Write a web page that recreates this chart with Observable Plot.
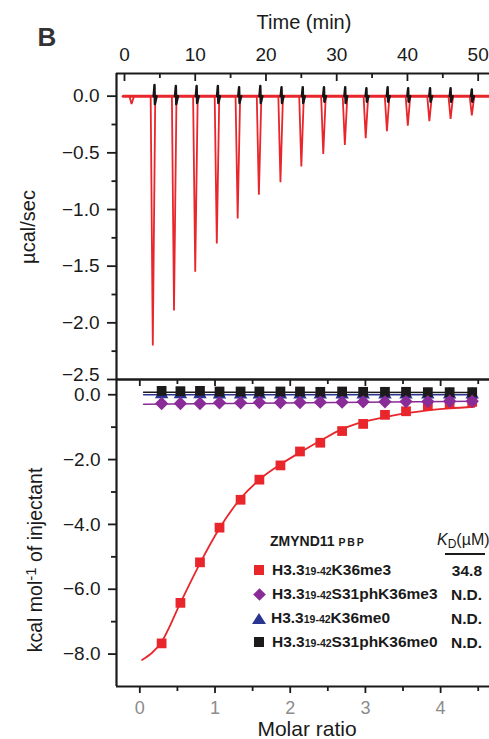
<!DOCTYPE html>
<html><head><meta charset="utf-8">
<script src="https://cdn.jsdelivr.net/npm/d3@7"></script>
<script src="https://cdn.jsdelivr.net/npm/@observablehq/plot@0.6"></script>
<style>
body{margin:0;background:#fff;}
#wrap{position:relative;width:489px;height:739px;overflow:hidden;font-family:"Liberation Sans",Arial,Helvetica,sans-serif;color:#1a1a1a;background:#fff;}
#wrap svg{position:absolute;left:0;top:0;}
.lbl{position:absolute;white-space:nowrap;line-height:1;}
.rot{transform:translate(-50%,-50%) rotate(-90deg);}
.ctr{transform:translate(-50%,-50%);}
.row{position:absolute;left:252px;height:20px;display:flex;align-items:center;font-weight:bold;font-size:15.5px;white-space:nowrap;}
.row .sub{font-size:10.5px;position:relative;top:1px;}
.kd{position:absolute;right:7px;font-weight:bold;font-size:15.5px;line-height:1;}
</style></head><body><div id="wrap"></div>
<script>
// ---------- top panel: raw heat (µcal/sec vs time) ----------
const injectionTime = [1.0, 4.0, 7.0, 10.0, 13.05, 16.0, 19.0, 22.05, 25.0, 28.1, 31.15, 34.1, 37.1, 40.05, 43.1, 46.1, 49.1];
const injectionPeak = [-0.07, -2.20, -1.89, -1.55, -1.30, -1.08, -0.87, -0.76, -0.62, -0.51, -0.43, -0.37, -0.31, -0.26, -0.22, -0.20, -0.17];
const controlTime = [4.24, 7.26, 10.2, 13.2, 16.2, 19.2, 22.2, 25.2, 28.2, 31.2, 34.2, 37.2, 40.1, 43.2, 46.1, 49.1];
const controlHigh = [0.10, 0.09, 0.09, 0.09, 0.08, 0.09, 0.08, 0.08, 0.08, 0.08, 0.07, 0.08, 0.07, 0.07, 0.07, 0.06];
const controlLow = [-0.07, -0.07, -0.06, -0.06, -0.06, -0.06, -0.06, -0.06, -0.05, -0.06, -0.05, -0.05, -0.05, -0.05, -0.05, -0.05];
const traceTimeRange = [-0.18, 51.6];
const timeMajor = [0, 10, 20, 30, 40, 50];
const timeMinor = [5, 15, 25, 35, 45];
const powerMajor = [0.0, -0.5, -1.0, -1.5, -2.0, -2.5];
const powerMinor = [-0.25, -0.75, -1.25, -1.75, -2.25];

// ---------- bottom panel: integrated heats ----------
const molarRatio = [0.29, 0.54, 0.80, 1.06, 1.34, 1.59, 1.87, 2.13, 2.40, 2.69, 2.97, 3.26, 3.54, 3.83, 4.12, 4.42];
const heatK36me3 = [-7.67, -6.42, -5.17, -4.10, -3.24, -2.62, -2.18, -1.75, -1.48, -1.12, -0.90, -0.62, -0.51, -0.33, -0.27, -0.22];
const heatS31phK36me3 = [-0.27, -0.27, -0.27, -0.25, -0.25, -0.24, -0.24, -0.24, -0.23, -0.23, -0.22, -0.22, -0.21, -0.21, -0.20, -0.20];
const heatK36me0 = [0.01, 0.01, 0.01, 0.00, 0.00, 0.00, 0.00, 0.00, 0.00, 0.00, 0.00, 0.00, 0.00, 0.00, 0.00, 0.00];
const heatS31phK36me0 = [0.12, 0.11, 0.12, 0.10, 0.10, 0.10, 0.10, 0.10, 0.09, 0.10, 0.09, 0.09, 0.09, 0.08, 0.08, 0.08];
const fitRatio = [0.03, 0.29, 0.54, 0.80, 1.06, 1.34, 1.59, 1.87, 2.13, 2.40, 2.69, 2.97, 3.26, 3.54, 3.83, 4.12, 4.45];
const fitK36me3 = [-8.18, -7.62, -6.42, -5.20, -4.12, -3.20, -2.62, -2.15, -1.78, -1.42, -1.06, -0.84, -0.69, -0.57, -0.48, -0.42, -0.37];
const fitControlRatio = [0.05, 4.45];
const fitS31phK36me3 = [-0.29, -0.20];
const fitK36me0 = [0.00, 0.00];
const fitS31phK36me0 = [0.08, 0.07];
const ratioMajor = [0, 1, 2, 3, 4];
const ratioMinor = [0.5, 1.5, 2.5, 3.5, 4.5];
const heatMajor = [0, -2, -4, -6, -8];
const heatMinor = [-1, -3, -5, -7];

// ---------- legend ----------
const legendPeptides = ["K36me3", "S31phK36me3", "K36me0", "S31phK36me0"];
const legendKd = ["34.8", "N.D.", "N.D.", "N.D."];
const seriesColor = ["#e8262b", "#8a2c97", "#2a3591", "#1c1a1a"];
const seriesSymbol = ["square", "diamond", "triangle", "square"];

const W = 489, H = 739;
const font = '"Liberation Sans", Arial, Helvetica, sans-serif';
const axisColor = "#1a1a1a";
const wrap = document.getElementById("wrap");

// ===== top plot =====
const topX = [-1.13, 51.6], topY = [-2.5, 0.2];
const topFrameH = 739 - 360 - 73;
const baseTrace = traceTimeRange.map(t => ({t, v: 0}));
const peakTrace = injectionTime.flatMap((t, i) => [
  {k: i, t: t - 0.3, v: 0}, {k: i, t: t, v: injectionPeak[i]}, {k: i, t: t + 0.35, v: 0}
]);
const ctrlTrace = controlTime.flatMap((t, i) => [
  {k: i, t: t - 0.12, v: 0}, {k: i, t: t, v: controlHigh[i]}, {k: i, t: t + 0.06, v: controlLow[i]}, {k: i, t: t + 0.3, v: 0}
]);
const topPlot = Plot.plot({
  width: W, height: H,
  marginTop: 73, marginLeft: 116, marginRight: 0, marginBottom: 360,
  x: {domain: topX}, y: {domain: topY},
  style: {background: "transparent", fontFamily: font, color: axisColor, overflow: "visible"},
  marks: [
    Plot.line(baseTrace, {x: "t", y: "v", stroke: "#e8262b", strokeWidth: 3}),
    Plot.line(peakTrace, {x: "t", y: "v", z: "k", stroke: "#e8262b", strokeWidth: 1.8, strokeLinejoin: "miter"}),
    Plot.line(ctrlTrace, {x: "t", y: "v", z: "k", stroke: "#161414", strokeWidth: 2.4}),
    Plot.axisX(timeMajor, {anchor: "top", tickSize: 0, tickPadding: 13, fontSize: 19, tickFormat: d => String(d), label: null}),
    Plot.tickX(timeMajor, {x: d => d, insetBottom: topFrameH - 8, strokeWidth: 1.8}),
    Plot.tickX(timeMinor, {x: d => d, insetBottom: topFrameH - 5, strokeWidth: 1.8}),
    Plot.axisY(powerMajor, {anchor: "left", tickSize: 9, strokeWidth: 1.8, tickFormat: () => "", label: null}),
    Plot.axisY(powerMajor.slice(0, -1), {anchor: "left", tickSize: 0, tickPadding: 17, fontSize: 19, tickFormat: d3.format(".1f"), label: null}),
    Plot.axisY(powerMajor.slice(-1), {anchor: "left", tickSize: 0, tickPadding: 17, fontSize: 19, dy: -5, tickFormat: d3.format(".1f"), label: null}),
    Plot.axisY(powerMinor, {anchor: "left", tickSize: 4.5, strokeWidth: 1.8, tickFormat: () => "", label: null}),
    Plot.ruleX([topX[0]], {strokeWidth: 2.2}),
    Plot.ruleY([topY[1]], {strokeWidth: 2.2}),
    Plot.ruleY([topY[0]], {strokeWidth: 2.2})
  ]
});
wrap.appendChild(topPlot);

// ===== bottom plot =====
const botX = [-0.31, 4.65], botY = [-9.0, 0.47];
const botFrameH = 739 - 53 - 379;
const rows = molarRatio.map((r, i) => ({r, a: heatK36me3[i], b: heatS31phK36me3[i], c: heatK36me0[i], d: heatS31phK36me0[i]}));
const fitRows = fitRatio.map((r, i) => ({r, v: fitK36me3[i]}));
const ctrlFit = fitControlRatio.map((r, i) => ({r, b: fitS31phK36me3[i], c: fitK36me0[i], d: fitS31phK36me0[i]}));
const botPlot = Plot.plot({
  width: W, height: H,
  marginTop: 379, marginLeft: 116, marginRight: 0, marginBottom: 53,
  x: {domain: botX}, y: {domain: botY},
  style: {background: "transparent", fontFamily: font, color: axisColor, overflow: "visible"},
  marks: [
    Plot.line(fitRows, {x: "r", y: "v", stroke: seriesColor[0], strokeWidth: 1.8, curve: "monotone-x"}),
    Plot.dot(rows, {x: "r", y: "a", symbol: seriesSymbol[0], r: 5.5, fill: seriesColor[0]}),
    Plot.line(ctrlFit, {x: "r", y: "c", stroke: seriesColor[2], strokeWidth: 1.5}),
    Plot.dot(rows, {x: "r", y: "c", symbol: seriesSymbol[2], r: 5, fill: seriesColor[2]}),
    Plot.line(ctrlFit, {x: "r", y: "d", stroke: seriesColor[3], strokeWidth: 1.5}),
    Plot.dot(rows, {x: "r", y: "d", symbol: seriesSymbol[3], r: 5.5, fill: seriesColor[3]}),
    Plot.line(ctrlFit, {x: "r", y: "b", stroke: seriesColor[1], strokeWidth: 1.5}),
    Plot.dot(rows, {x: "r", y: "b", symbol: "diamond2", r: 6, fill: seriesColor[1]}),
    Plot.axisX(ratioMajor, {anchor: "bottom", tickSize: 0, tickPadding: 15, fontSize: 18, fill: "#8c8c8c", tickFormat: d => String(d), label: null}),
    Plot.axisX(ratioMajor, {anchor: "bottom", tickSize: 7, strokeWidth: 1.8, tickFormat: () => "", label: null}),
    Plot.axisX(ratioMinor, {anchor: "bottom", tickSize: 5, strokeWidth: 1.8, tickFormat: () => "", label: null}),
    Plot.tickX(ratioMajor, {x: d => d, insetBottom: botFrameH - 7, strokeWidth: 1.8}),
    Plot.tickX(ratioMinor, {x: d => d, insetBottom: botFrameH - 5, strokeWidth: 1.8}),
    Plot.axisY(heatMajor, {anchor: "left", tickSize: 8, tickPadding: 8, fontSize: 19, strokeWidth: 1.8, tickFormat: d3.format(".1f"), label: null}),
    Plot.axisY(heatMinor, {anchor: "left", tickSize: 5, strokeWidth: 1.8, tickFormat: () => "", label: null}),
    Plot.ruleX([botX[0]], {strokeWidth: 2.2}),
    Plot.ruleY([botY[0]], {strokeWidth: 2.2}),
    Plot.ruleY([botY[1]], {strokeWidth: 2.2})
  ]
});
wrap.appendChild(botPlot);

// ===== text labels =====
function addLabel(html, cls, style) {
  const d = document.createElement("div");
  d.className = "lbl " + cls;
  d.innerHTML = html;
  Object.assign(d.style, style);
  wrap.appendChild(d);
  return d;
}
addLabel("B", "ctr", {left: "47px", top: "37px", fontSize: "26px", fontWeight: "bold", color: "#333"});
addLabel("Time (min)", "ctr", {left: "304px", top: "22px", fontSize: "20px"});
addLabel("µcal/sec", "rot", {left: "28px", top: "227px", fontSize: "20px"});
addLabel('kcal mol<sup style="font-size:15px;position:relative;top:-3px;vertical-align:top">-1</sup> of injectant', "rot", {left: "36px", top: "560px", fontSize: "19.5px"});
addLabel("Molar ratio", "ctr", {left: "307px", top: "728px", fontSize: "21px"});

// legend header
addLabel('ZMYND11 <span style="font-size:10.5px;letter-spacing:1.8px">PBP</span>', "", {left: "270px", top: "534px", fontSize: "14px", fontWeight: "bold"});
addLabel('<i>K</i><span style="font-size:12px;position:relative;top:3px">D</span>(µM)', "", {left: "437px", top: "532px", fontSize: "16px"});
const ul = document.createElement("div");
Object.assign(ul.style, {position: "absolute", left: "445px", top: "553px", width: "40px", height: "1.6px", background: "#1a1a1a"});
wrap.appendChild(ul);

const rowTop = [560, 584, 608, 632];
legendPeptides.forEach((p, i) => {
  const r = document.createElement("div");
  r.className = "row";
  r.style.top = rowTop[i] + "px";
  let marker;
  if (seriesSymbol[i] === "square") marker = `<span style="display:inline-block;width:10px;height:10px;background:${seriesColor[i]};margin:0 8px 0 2px"></span>`;
  else if (seriesSymbol[i] === "diamond") marker = `<span style="display:inline-block;width:9px;height:9px;background:${seriesColor[i]};transform:rotate(45deg);margin:0 8px 0 3px"></span>`;
  else marker = `<span style="display:inline-block;width:0;height:0;border-left:7px solid transparent;border-right:7px solid transparent;border-bottom:11px solid ${seriesColor[i]};margin:0 5px 0 0"></span>`;
  r.innerHTML = marker + `H3.3<span class="sub">19-42</span>${p}`;
  wrap.appendChild(r);
  const k = document.createElement("div");
  k.className = "kd";
  k.style.top = (rowTop[i] + 3) + "px";
  k.textContent = legendKd[i];
  wrap.appendChild(k);
});
</script></body></html>
